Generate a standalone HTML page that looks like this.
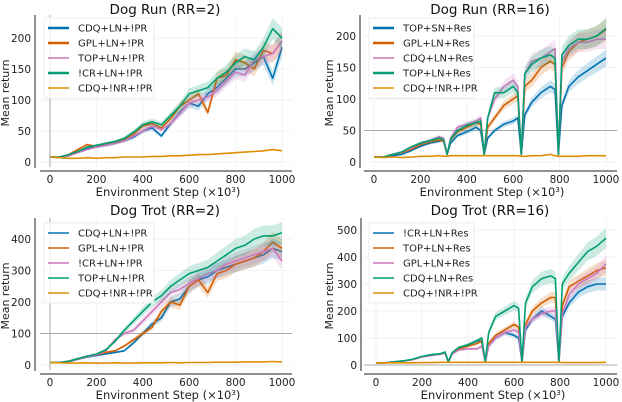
<!DOCTYPE html>
<html><head><meta charset="utf-8"><style>
body{margin:0;background:#fff}
svg{display:block;font-family:"DejaVu Sans","Liberation Sans",sans-serif}
</style></head><body>
<svg id="c" width="622" height="402" viewBox="0 0 622 402"></svg>
<script>
const xRegular=[0,40,80,120,160,200,240,280,320,360,400,440,480,520,560,600,640,680,720,760,800,840,880,920,960,1000];
const xDips=[0,40,80,120,160,200,240,280,300,315,330,360,400,440,460,475,490,520,560,600,620,635,650,680,720,760,780,795,810,840,880,920,960,1000];
const xTicks=[0,200,400,600,800,1000];
const p1Labels=["CDQ+LN+!PR","GPL+LN+!PR","TOP+LN+!PR","!CR+LN+!PR","CDQ+!NR+!PR"];
const p1A=[8,7,10,16,22,24,27,30,34,40,50,55,42,62,80,95,90,110,120,135,150,150,160,170,135,185];
const p1B=[8,8,12,20,28,25,30,32,36,45,58,62,55,70,90,100,110,80,135,140,165,160,150,180,175,195];
const p1C=[8,8,10,15,20,24,27,30,34,42,50,58,52,62,78,95,100,105,115,130,145,140,165,170,175,195];
const p1D=[8,8,12,17,24,27,30,33,38,48,60,65,60,75,90,110,115,120,135,145,160,170,165,185,215,200];
const p1E=[8,7,6,6,7,6,7,7,8,8,8,9,9,10,10,11,12,12,13,14,15,16,17,18,20,18];
const p1YTicks=[0,50,100,150,200];
const p2Labels=["TOP+SN+Res","GPL+LN+Res","CDQ+LN+Res","TOP+LN+Res","CDQ+!NR+!PR"];
const p2A=[8,8,10,12,18,25,30,33,35,12,30,42,48,55,50,12,38,50,60,65,70,12,75,95,110,120,115,12,90,120,135,145,155,165];
const p2B=[8,8,12,15,20,28,32,35,33,12,35,48,55,62,60,12,55,70,90,100,105,12,120,130,150,160,155,12,150,175,190,195,200,210];
const p2C=[8,8,12,16,22,30,34,40,38,12,38,55,60,65,70,12,70,100,120,130,120,12,140,160,165,175,180,12,160,180,190,190,195,195];
const p2D=[8,8,12,16,24,30,34,38,35,12,36,50,58,62,65,12,70,110,110,120,110,12,140,155,165,170,165,12,170,185,195,195,200,212];
const p2E=[8,7,8,7,8,9,9,10,9,9,10,10,10,10,10,10,10,10,10,10,10,9,9,10,10,12,10,9,9,9,9,10,10,10];
const p3Labels=["CDQ+LN+!PR","GPL+LN+!PR","!CR+LN+!PR","TOP+LN+!PR","CDQ+!NR+!PR"];
const p3A=[8,8,10,18,25,30,35,40,45,70,100,130,150,200,210,250,270,280,300,310,320,330,340,350,370,360];
const p3B=[8,8,12,20,28,32,40,45,60,80,100,120,170,200,190,250,270,230,290,300,320,330,340,360,390,370];
const p3C=[8,8,10,18,26,32,45,80,100,110,140,170,200,230,240,260,275,290,300,320,330,340,350,360,370,330];
const p3D=[8,8,12,20,28,35,48,75,110,140,170,200,220,250,270,290,300,310,330,350,370,380,400,410,410,420];
const p3E=[8,7,6,6,7,6,6,7,6,6,7,7,7,8,7,8,8,8,9,9,9,10,10,10,11,10];
const p3YTicks=[0,100,200,300,400];
const p4Labels=["!CR+LN+Res","TOP+LN+Res","GPL+LN+Res","CDQ+LN+Res","CDQ+!NR+!PR"];
const p4A=[8,8,12,15,20,30,38,40,45,12,40,60,75,90,85,12,70,100,120,110,100,12,130,170,200,180,170,12,180,230,270,290,300,300];
const p4B=[8,8,12,15,20,30,38,40,45,12,40,60,70,80,90,12,80,110,130,150,140,12,150,200,230,250,250,12,220,290,310,330,350,360];
const p4C=[8,8,12,15,20,30,35,40,45,12,40,55,60,60,70,12,70,100,120,130,120,12,140,170,190,200,200,12,190,260,300,320,340,375];
const p4D=[8,8,12,15,22,32,38,42,48,12,45,65,75,90,100,12,120,180,200,220,210,12,230,290,320,330,320,12,300,340,380,420,440,470];
const p4E=[8,8,8,8,8,9,9,10,10,10,10,10,10,10,10,10,10,10,10,10,10,10,10,10,10,10,10,10,9,9,9,9,9,10];
const p4YTicks=[0,100,200,300,400,500];

const NS="http://www.w3.org/2000/svg";
const svg=document.getElementById('c');
function mk(tag,attrs,parent){const e=document.createElementNS(NS,tag);for(const k in attrs)e.setAttribute(k,attrs[k]);(parent||svg).appendChild(e);return e;}

function panel(cfg){
  const g=mk('g',{});
  
  
  const sx=v=>cfg.x0+(v/1000)*(cfg.x1-cfg.x0);
  const sy=v=>cfg.y0-(v/cfg.yRef)*(cfg.y0-cfg.yRefPx);
  // grid
  cfg.yt.forEach(t=>{const l=mk('line',{x1:cfg.ax0,x2:cfg.ax1,y1:sy(t),y2:sy(t),stroke:'#f2f2f2','stroke-width':1},g);
    });
  xTicks.forEach(t=>{const l=mk('line',{x1:sx(t),x2:sx(t),y1:cfg.top,y2:cfg.xAxisY-4,stroke:'#f2f2f2','stroke-width':1},g);
    });
  // reference line
  if(cfg.hline!==undefined){const l=mk('line',{x1:cfg.ax0,x2:cfg.ax1,y1:sy(cfg.hline),y2:sy(cfg.hline),stroke:'#aaa','stroke-width':1},g);
    }
  if(cfg.vline){const l=mk('line',{x1:sx(0),x2:sx(0),y1:cfg.top,y2:cfg.xAxisY-4,stroke:'#aaa','stroke-width':1},g);
    }
  // series
  const cols=cfg.colors;
  cfg.series.forEach((s,i)=>{
    const w=cfg.band;
    let up='',dn='';
    s.forEach((v,j)=>{up+=(j?'L':'M')+sx(cfg.xs[j]).toFixed(1)+','+sy(v*(1+w)).toFixed(1);});
    for(let j=s.length-1;j>=0;j--)dn+='L'+sx(cfg.xs[j]).toFixed(1)+','+sy(s[j]*(1-w)).toFixed(1);
    const b=mk('path',{d:up+dn+'Z',fill:cols[i],opacity:0.2,stroke:'none'},g);
    
    let d='';s.forEach((v,j)=>{d+=(j?'L':'M')+sx(cfg.xs[j]).toFixed(1)+','+sy(v).toFixed(1);});
    const p=mk('path',{d:d,fill:'none',stroke:cols[i],'stroke-width':1.6,'stroke-linejoin':'round'},g);
    
  });
  // spines
  const ys=mk('line',{x1:cfg.spineX,x2:cfg.spineX,y1:cfg.top,y2:cfg.xAxisY-3,stroke:'#222','stroke-width':1},g);
  
  const xsl=mk('line',{x1:cfg.ax0,x2:cfg.ax1,y1:cfg.xAxisY,y2:cfg.xAxisY,stroke:'#222','stroke-width':1},g);
  
  cfg.yt.forEach(t=>{const e=mk('text',{x:cfg.spineX-4,y:sy(t)+4,'text-anchor':'end','font-size':10.5,fill:'#222'},g);e.textContent=t;
    });
  xTicks.forEach(t=>{const e=mk('text',{x:sx(t),y:cfg.xAxisY+12,'text-anchor':'middle','font-size':10.5,fill:'#222'},g);e.textContent=t;
    });
  const xl=mk('text',{x:(cfg.x0+cfg.x1)/2+2,y:cfg.xAxisY+25,'text-anchor':'middle','font-size':11.5,fill:'#222'},g);
  xl.innerHTML='Environment Step (×10<tspan dy="-4" font-size="7">3</tspan><tspan dy="4">)</tspan>';
  
  const yl=mk('text',{x:0,y:0,'text-anchor':'middle','font-size':11,fill:'#222',transform:`translate(${cfg.ylX},${(cfg.top+cfg.xAxisY)/2}) rotate(-90)`},g);
  yl.textContent='Mean return';
  const ti=mk('text',{x:cfg.titleX,y:cfg.titleY,'text-anchor':'middle','font-size':13.5,fill:'#111'},g);
  ti.textContent=cfg.title;
  // legend
  const lg=mk('g',{},g);
  const bx=mk('rect',{x:cfg.lx-4,y:cfg.ly-10,width:cfg.lw,height:80,fill:'#fff','fill-opacity':0.8,stroke:'#eee'},lg);
  
  cfg.labels.forEach((lab,i)=>{
    const y=cfg.ly+i*15;
    const l=mk('line',{x1:cfg.lx,x2:cfg.lx+21,y1:y,y2:y,stroke:cols[i],'stroke-width':cfg.legW[i]},lg);
    
    const t=mk('text',{x:cfg.lx+30,y:y+3.5,'font-size':10,fill:'#222'},lg);t.textContent=lab;
    
  });
}
const B='#0173b2',R='#d55e00',P='#cc78bc',G='#029e73',O='#de8f05';
panel({name:'panel-dog-run-rr2',title:'Dog Run (RR=2)',titleX:165,titleY:14,x0:50,x1:282,y0:162,yRef:200,yRefPx:38,
  ax0:40,ax1:292,spineX:35,top:15,xAxisY:171,ylX:9,vline:true,band:0.08,xs:xRegular,yt:p1YTicks,
  series:[p1A,p1B,p1C,p1D,p1E],colors:[B,R,P,G,O],labels:p1Labels,lx:48,ly:28,lw:110,legW:[2.5,2.5,1.5,2.5,1.5]});
panel({name:'panel-dog-run-rr16',title:'Dog Run (RR=16)',titleX:490,titleY:14,x0:374,x1:606,y0:162,yRef:200,yRefPx:36,
  ax0:364,ax1:617,spineX:360,top:15,xAxisY:171,ylX:333,hline:50,band:0.08,xs:xDips,yt:p1YTicks,
  series:[p2A,p2B,p2C,p2D,p2E],colors:[B,R,P,G,O],labels:p2Labels,lx:373,ly:28,lw:105,legW:[2.5,2.5,1.5,2.5,1.5]});
panel({name:'panel-dog-trot-rr2',title:'Dog Trot (RR=2)',titleX:165,titleY:215,x0:50,x1:282,y0:365,yRef:400,yRefPx:239,
  ax0:40,ax1:292,spineX:35,top:218,xAxisY:374,ylX:9,vline:true,hline:100,band:0.08,xs:xRegular,yt:p3YTicks,
  series:[p3A,p3B,p3C,p3D,p3E],colors:[B,R,P,G,O],labels:p3Labels,lx:48,ly:233,lw:110,legW:[1.5,1.5,1.5,1.5,1.5]});
panel({name:'panel-dog-trot-rr16',title:'Dog Trot (RR=16)',titleX:490,titleY:215,x0:376,x1:606,y0:365,yRef:500,yRefPx:230,
  ax0:364,ax1:617,spineX:361,top:218,xAxisY:374,ylX:333,hline:0,band:0.08,xs:xDips,yt:p4YTicks,
  series:[p4A,p4B,p4C,p4D,p4E],colors:[B,R,P,G,O],labels:p4Labels,lx:373,ly:233,lw:105,legW:[1.5,1.5,1.5,1.5,1.5]});
</script>
</body></html>
